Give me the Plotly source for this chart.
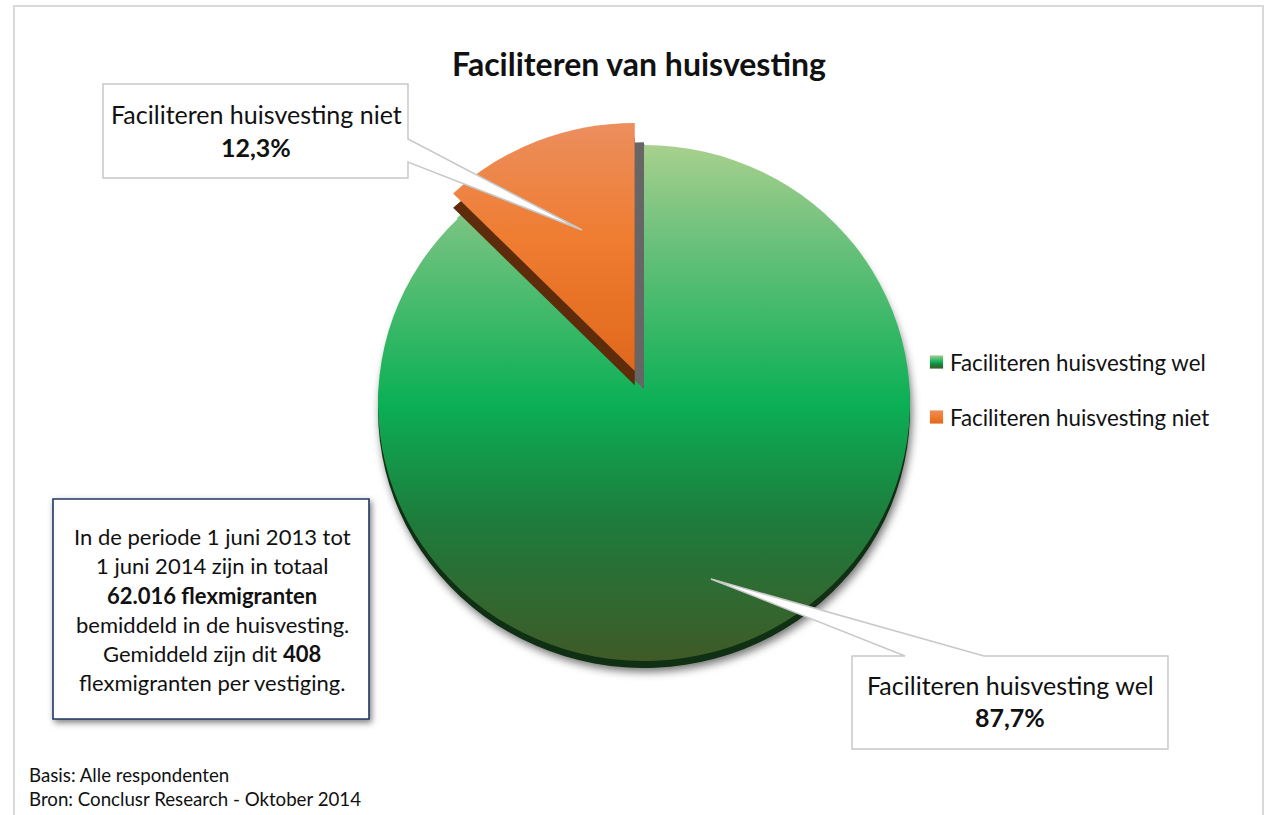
import plotly.graph_objects as go

titel = "Faciliteren van huisvesting"
labels = ["Faciliteren huisvesting wel", "Faciliteren huisvesting niet"]
values = [87.7, 12.3]
uitgetrokken = [0, 0.092]
waarde_tekst = ["87,7%", "12,3%"]
kader_regels = [
    "In de periode 1 juni 2013 tot",
    "1 juni 2014 zijn in totaal",
    "<b>62.016 flexmigranten</b>",
    "bemiddeld in de huisvesting.",
    "Gemiddeld zijn dit <b>408</b>",
    "flexmigranten per vestiging.",
]
voetnoot = ["Basis: Alle respondenten", "Bron: Conclusr Research - Oktober 2014"]

W, H = 1264, 815
CX, CY, R = 644, 403, 258
D = 2 * R * (1 + max(uitgetrokken))
FONT = "Lato"
TXT = "#111111"


def X(p):
    return p / W


def Y(p):
    return 1 - p / H


def layer(colors, dx=0, dy=0, showlegend=False, pull=None):
    return go.Pie(
        labels=labels, values=values, pull=pull or uitgetrokken, sort=False,
        direction="clockwise", rotation=0, textinfo="none", hoverinfo="skip",
        showlegend=showlegend,
        marker=dict(colors=colors, line=dict(width=0)),
        domain=dict(
            x=[X(CX + dx - D / 2), X(CX + dx + D / 2)],
            y=[Y(CY + dy + D / 2), Y(CY + dy - D / 2)],
        ),
    )


NONE = "rgba(0,0,0,0)"
fig = go.Figure([
    layer(["#0f3012", NONE], dy=7),
    layer(["#0bb055", "#ef7d32"], showlegend=True),
    layer([NONE, "#0bb055"], pull=uitgetrokken[::-1]),
    layer([NONE, "#666666"], dx=10, dy=20),
    layer([NONE, "#5e2c0a"], dy=15),
    layer([NONE, "#ef7d32"]),
])


def poly(pts, line, fill, width=1.5):
    path = "M" + " L".join(f"{X(a):.5f},{Y(b):.5f}" for a, b in pts) + " Z"
    return dict(type="path", xref="paper", yref="paper", path=path, layer="above",
                line=dict(color=line, width=width), fillcolor=fill)


GRAY = "#c8c8c8"
shapes = [
    poly([(14, 6), (1263, 6), (1263, 840), (14, 840)], "#d9d9d9", "rgba(0,0,0,0)", 2),
    poly([(103, 84), (408, 84), (408, 139), (582, 230), (408, 162), (408, 178), (103, 178)], GRAY, "white"),
    poly([(852, 656), (905, 656), (711, 579), (984, 656), (1168, 656), (1168, 749), (852, 749)], GRAY, "white"),
    poly([(53, 499), (369, 499), (369, 719), (53, 719)], "#1f3864", "white", 1.6),
]


def txt(x, y, s, size, anchor="center"):
    return dict(xref="paper", yref="paper", x=X(x), y=Y(y), text=s, showarrow=False,
                xanchor=anchor, yanchor="middle",
                font=dict(family=FONT, size=size, color=TXT))


ann = [
    txt(639, 63, f"<b>{titel}</b>", 32),
    txt(256, 114, labels[1], 25),
    txt(256, 147, f"<b>{waarde_tekst[1]}</b>", 25),
    txt(1010, 685, labels[0], 25),
    txt(1010, 717, f"<b>{waarde_tekst[0]}</b>", 25),
]
for regel, y in zip(kader_regels, [536, 565, 595, 624, 653, 682]):
    ann.append(txt(212, y, regel, 22))
for regel, y in zip(voetnoot, [775, 799]):
    ann.append(txt(27, y, regel, 18.7, anchor="left"))

fig.update_layout(
    width=W, height=H, margin=dict(l=0, r=0, t=0, b=0),
    paper_bgcolor="white", plot_bgcolor="white",
    font=dict(family=FONT, color=TXT),
    shapes=shapes, annotations=ann,
    legend=dict(x=X(916.5), y=Y(341), xanchor="left", yanchor="top",
                font=dict(family=FONT, size=22.3, color=TXT), bgcolor="rgba(0,0,0,0)"),
)

post = """
document.body.style.margin='0';
document.documentElement.style.overflow='hidden';
var svg=document.querySelector('.main-svg');
var ns='http://www.w3.org/2000/svg';
var defs=document.createElementNS(ns,'defs');
function grad(id,stops,user){
  var g=document.createElementNS(ns,'linearGradient');
  g.setAttribute('id',id);
  if(user){g.setAttribute('gradientUnits','userSpaceOnUse');g.setAttribute('x1','0');g.setAttribute('y1','145');g.setAttribute('x2','0');g.setAttribute('y2','661');}
  else{g.setAttribute('x1','0');g.setAttribute('y1','0');g.setAttribute('x2','0');g.setAttribute('y2','1');}
  stops.forEach(function(s){var e=document.createElementNS(ns,'stop');e.setAttribute('offset',s[0]);e.setAttribute('stop-color',s[1]);g.appendChild(e);});
  defs.appendChild(g);
}
var greens=[[0,'#a8d08d'],[0.165,'#72c27e'],[0.5,'#0bb055'],[0.73,'#1e7b3c'],[1,'#3f5a27']];
grad('gGreen',greens,false);
grad('gGreenU',greens,true);
grad('gOrange',[[0,'#ec8e5e'],[0.45,'#ef7d32'],[1,'#e0681c']],false);
var cp=document.createElementNS(ns,'clipPath');cp.setAttribute('id','gapClip');
var cr=document.createElementNS(ns,'rect');cr.setAttribute('x','634.3');cr.setAttribute('y','100');cr.setAttribute('width','9.7');cr.setAttribute('height','310');
cp.appendChild(cr);defs.appendChild(cp);
svg.insertBefore(defs,svg.firstChild);
var pl=document.querySelector('.pielayer');
pl.setAttribute('transform','translate(%d,0) scale(1.031,1) translate(%d,0)');
var tr=pl.querySelectorAll('.trace');
function fill(t,i,id){
  var p=tr[t].querySelectorAll('.slice')[i].querySelector('path');
  p.style.fill=id?'url(#'+id+')':'none';
  return p;
}
fill(1,0,'gGreenU');fill(1,1,null);
var patch=fill(2,1,'gGreenU');
patch.style.stroke='url(#gGreenU)';patch.style.strokeWidth='2px';patch.style.strokeOpacity='1';
fill(5,1,'gOrange');
var tf='translate(634,123) scale(0.978,0.961) translate(-634,-123)';
tr[4].setAttribute('transform',tf);tr[5].setAttribute('transform',tf);
var wrap=document.createElementNS(ns,'g');wrap.setAttribute('clip-path','url(#gapClip)');
tr[3].parentNode.insertBefore(wrap,tr[3]);wrap.appendChild(tr[3]);
tr[3].setAttribute('transform',tf);
tr[0].style.filter='drop-shadow(2px 4px 4px rgba(0,0,0,0.55))';
var lg=document.querySelectorAll('.legend .traces');
lg.forEach(function(g,i){
  var m=/translate\\(([^,]+),\\s*([^)]+)\\)/.exec(g.getAttribute('transform'));
  g.setAttribute('transform','translate('+m[1]+','+(parseFloat(m[2])+i*23)+')');
  var p=g.querySelector('.legendpoints path');
  p.style.fill='url(#'+(i==0?'gGreen':'gOrange')+')';
  p.setAttribute('transform',(p.getAttribute('transform')||'')+' scale(1.1)');
  var t=g.querySelector('.legendtext');t.setAttribute('x','33.5');
});
var sb=document.querySelector('.legend .scrollbox');
if(sb){sb.removeAttribute('clip-path');sb.style.clipPath='none';}
var leg=document.querySelector('.legend');if(leg){leg.removeAttribute('clip-path');}
document.querySelectorAll('.shapelayer path[data-index="3"]').forEach(function(p){p.style.filter='drop-shadow(2px 3px 3px rgba(0,0,0,0.5))';});
""" % (CX, -CX)

fig.write_html("out.html", post_script=post, config=dict(displayModeBar=False))
